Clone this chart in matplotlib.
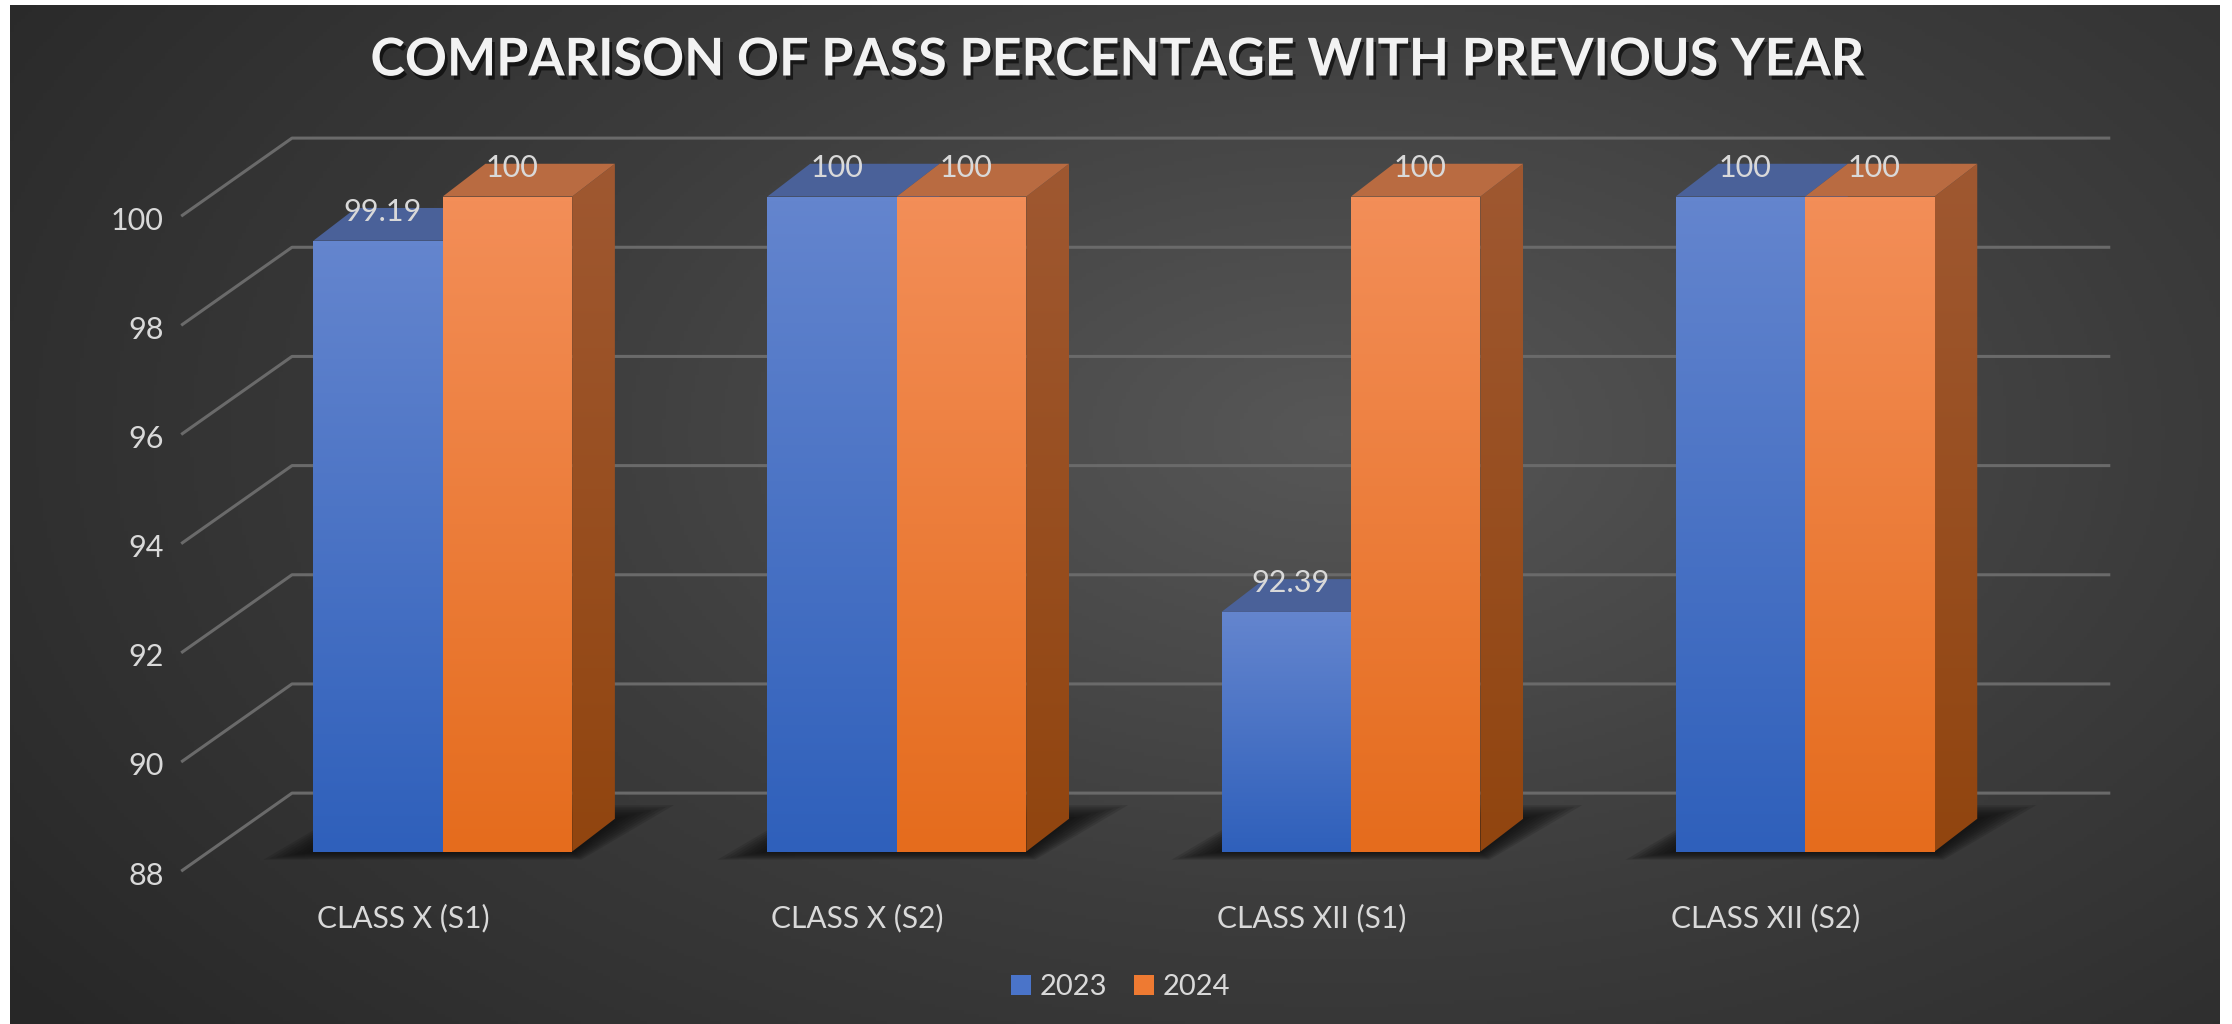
import numpy as np
import matplotlib.pyplot as plt
from matplotlib.patches import Polygon, Patch
from matplotlib.colors import LinearSegmentedColormap
import matplotlib.patheffects as pe

categories = ["CLASS X (S1)", "CLASS X (S2)", "CLASS XII (S1)", "CLASS XII (S2)"]
series = ["2023", "2024"]
pass_2023 = [99.19, 100, 92.39, 100]
pass_2024 = [100, 100, 100, 100]
yticks = [88, 90, 92, 94, 96, 98, 100]

plt.rcParams['font.family'] = ['Lato', 'DejaVu Sans']
W, H = 2232, 1024
fig = plt.figure(figsize=(W / 100, H / 100), dpi=100, facecolor="white")

# dark radial background
bg = fig.add_axes([10 / W, 0, 2210 / W, 1019 / H])
yy, xx = np.mgrid[0:1:300j, 0:1:600j]
r = np.sqrt(((xx - 0.6) / 0.75) ** 2 + ((yy - 0.42) / 0.95) ** 2)
bg_cmap = LinearSegmentedColormap.from_list("bg", ["#575757", "#3c3c3c", "#272727"])
bg.imshow(np.clip(r, 0, 1), cmap=bg_cmap, vmin=0, vmax=1, aspect="auto")
bg.axis("off")

ax = fig.add_axes([0, 0, 1, 1])
ax.set_xlim(-0.975, 3.940)
ax.set_ylim(84.84, 103.60)
ax.axis("off")
ax.patch.set_alpha(0)

base = 88
bw = 0.285
dx, dy = 0.094, 0.60          # bar depth
wall_dy = 1.07                # back wall offset
txt = "#d9d9d9"
grid_c = "#6a6a6a"

# gridlines on back wall + left wall
for v in yticks:
    ax.plot([-0.576, -0.332, 3.672], [v - 0.36, v + wall_dy, v + wall_dy],
            color=grid_c, lw=2.2, zorder=1, solid_capstyle="butt")
    ax.text(-0.614, v - 0.44, str(v), ha="right", va="center",
            fontsize=22, color=txt, zorder=5)


def grad_fill(poly, top, bottom, z):
    ax.add_patch(poly)
    xs, ys = np.array(poly.get_xy()).T
    cmap = LinearSegmentedColormap.from_list("g", [bottom, top])
    g = np.linspace(0, 1, 128).reshape(-1, 1)
    im = ax.imshow(g, extent=[xs.min(), xs.max(), ys.min(), ys.max()],
                   origin="lower", cmap=cmap, aspect="auto", zorder=z,
                   interpolation="bilinear")
    im.set_clip_path(poly)


def bar3d(x0, v, front, side, top, z):
    x1 = x0 + bw
    grad_fill(Polygon([(x0, base), (x1, base), (x1, v), (x0, v)], closed=True,
                      facecolor="none", edgecolor="none", zorder=z), front[0], front[1], z)
    grad_fill(Polygon([(x1, base), (x1 + dx, base + dy), (x1 + dx, v + dy), (x1, v)],
                      closed=True, facecolor="none", edgecolor="none", zorder=z),
              side[0], side[1], z)
    ax.add_patch(Polygon([(x0, v), (x0 + dx, v + dy), (x1 + dx, v + dy), (x1, v)],
                         closed=True, facecolor=top, edgecolor="none", zorder=z))


blue = (("#6485ce", "#2f60bb"), ("#2d4f90", "#243f78"), "#4a6199")
orange = (("#f38e58", "#e56c1d"), ("#9f5831", "#91450f"), "#b96b41")

for i in range(len(categories)):
    xl = i - bw
    xr = i + bw + dx
    # soft floor shadow
    for k in range(8):
        s = (8 - k) / 8
        ax.add_patch(Polygon([(xl - 0.11 * s, base - 0.15 * s),
                              (i + bw + 0.02 * s, base - 0.15 * s),
                              (xr + 0.13 * s, base + dy + 0.25 * s),
                              (xl + dx, base + dy + 0.25 * s)],
                             closed=True, facecolor="#0a0a0a", alpha=0.14,
                             edgecolor="none", zorder=2))
    bar3d(i - bw, pass_2023[i], blue[0], blue[1], blue[2], 3 + i * 0.1)
    bar3d(i, pass_2024[i], orange[0], orange[1], orange[2], 3.05 + i * 0.1)
    ax.text(i - bw / 2 + 0.01, pass_2023[i] + 0.53, f"{pass_2023[i]:g}",
            ha="center", va="center", fontsize=22, color=txt, zorder=6)
    ax.text(i + bw / 2 + 0.01, pass_2024[i] + 0.53, f"{pass_2024[i]:g}",
            ha="center", va="center", fontsize=22, color=txt, zorder=6)
    ax.text(i - 0.087, 86.78, categories[i], ha="center", va="center",
            fontsize=21.5, color=txt, zorder=6)

fig.text(0.501, 1 - 61 / H, "COMPARISON OF PASS PERCENTAGE WITH PREVIOUS YEAR",
         ha="center", va="center", fontsize=37.5, fontweight="bold", color="#f2f2f2",
         path_effects=[pe.withSimplePatchShadow(offset=(2, -3), shadow_rgbFace="black", alpha=0.6)])

handles = [Patch(facecolor="#4a74c9", label=series[0]),
           Patch(facecolor="#ee7a32", label=series[1])]
fig.legend(handles=handles, loc="center", bbox_to_anchor=(0.502, 1 - 987 / H),
           ncol=2, frameon=False, fontsize=21, labelcolor=txt,
           handlelength=0.7, handleheight=0.7, handletextpad=0.3, columnspacing=0.9)

fig.savefig("out.png", dpi=100, facecolor=fig.get_facecolor())
